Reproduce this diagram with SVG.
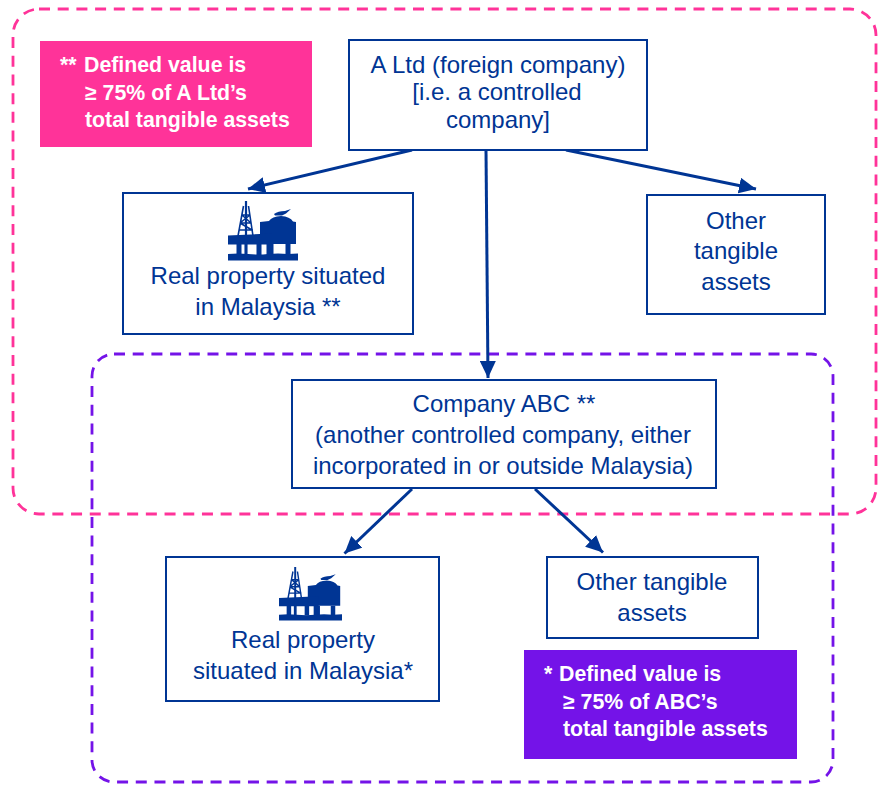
<svg xmlns="http://www.w3.org/2000/svg" width="882" height="812" viewBox="0 0 882 812">
<style>
text{font-family:"Liberation Sans",Arial,sans-serif;font-size:24px;fill:#003594;text-anchor:middle}
.box{fill:#fff;stroke:#003594;stroke-width:2}
.conn{fill:none;stroke:#003594;stroke-width:3;marker-end:url(#arr)}
.note text{fill:#fff;font-weight:bold;font-size:21.3px;text-anchor:start}
.dash{fill:none;stroke-width:2.8;stroke-dasharray:11 7.700}
</style>
<defs>
<marker id="arr" viewBox="0 0 17 16" refX="17" refY="8" markerUnits="userSpaceOnUse" markerWidth="17" markerHeight="16" orient="auto"><path d="M0 0L17 8L0 16Z" fill="#003594"/></marker>
<symbol id="rig" viewBox="0 0 70 60" overflow="visible">
<g fill="#003594">
<path d="M32 21L41 20Q44 15.500 53 15Q62 15.500 65 20.500L68 21V43H32Z"/>
<path d="M0 34.500L44 32.500V43.500H0Z"/>
<path d="M46 13Q50 10 57 10L63 8L58 12.500L54 14.500H47Z"/>
<path d="M8.500 43H13.500V54H8.500ZM16.500 43H19.500V54H16.500ZM28.500 43H33.500V54H28.500ZM38.500 43H45.500V54H38.500ZM57.500 43H62.500V54H57.500Z"/>
<path d="M0 53Q10 52 20 53T40 53T60 53L70 52.500V59.500H0Z"/>
</g>
<path d="M15.500 5L10 35M20.500 5L25 35M13.500 14H22M12 22H23.500M11 29H25M14 14L23 22M22 14L12 22M12 22L24 29" fill="none" stroke="#003594" stroke-width="1.600"/>
<path d="M18 0V54" stroke="#003594" stroke-width="2.200"/>
</symbol>
</defs>
<rect width="882" height="812" fill="#fff"/>
<rect id="frame-pink" class="dash" x="13" y="9" width="863" height="505" rx="26" stroke="#ff3399"/>
<rect id="frame-purple" class="dash" x="92" y="354" width="741" height="428" rx="22" stroke="#7413e8"/>
<g id="connectors">
<path class="conn" d="M412 150L248 189"/>
<path class="conn" d="M486 150L488 378"/>
<path class="conn" d="M566 150L756 189"/>
<path class="conn" d="M412 489L344.500 553.500"/>
<path class="conn" d="M535 489L603 552.500"/>
</g>
<g id="note-ltd" class="note">
<rect x="40" y="41" width="272" height="106" fill="#ff3399"/>
<text x="60" y="72">**</text><text x="84" y="72">Defined value is</text>
<text x="85" y="100">≥ 75% of A Ltd’s</text>
<text x="85" y="127">total tangible assets</text>
</g>
<g id="a-ltd">
<rect class="box" x="349" y="40" width="298" height="110"/>
<text x="498" y="73">A Ltd (foreign company)</text>
<text x="497" y="100">[i.e. a controlled</text>
<text x="498" y="128">company]</text>
</g>
<g id="real-property-1">
<rect class="box" x="123" y="193" width="290" height="141"/>
<use href="#rig" x="228" y="201" width="70" height="60"/>
<text x="268" y="284">Real property situated</text>
<text x="268" y="315">in Malaysia **</text>
</g>
<g id="other-1">
<rect class="box" x="647" y="195" width="178" height="119"/>
<text x="736" y="229">Other</text>
<text x="736" y="259">tangible</text>
<text x="736" y="290">assets</text>
</g>
<g id="company-abc">
<rect class="box" x="292" y="380" width="424" height="108"/>
<text x="504" y="412">Company ABC **</text>
<text x="503" y="443">(another controlled company, either</text>
<text x="503" y="474">incorporated in or outside Malaysia)</text>
</g>
<g id="real-property-2">
<rect class="box" x="166" y="557" width="273" height="144"/>
<use href="#rig" x="279" y="567" width="63" height="54"/>
<text x="303" y="648">Real property</text>
<text x="303" y="679">situated in Malaysia*</text>
</g>
<g id="other-2">
<rect class="box" x="547" y="557" width="211" height="81"/>
<text x="652" y="590">Other tangible</text>
<text x="652" y="621">assets</text>
</g>
<g id="note-abc" class="note">
<rect x="524" y="650" width="273" height="109" fill="#7413e8"/>
<text x="544" y="681">*</text><text x="559" y="681">Defined value is</text>
<text x="563" y="709">≥ 75% of ABC’s</text>
<text x="563" y="736">total tangible assets</text>
</g>
</svg>
